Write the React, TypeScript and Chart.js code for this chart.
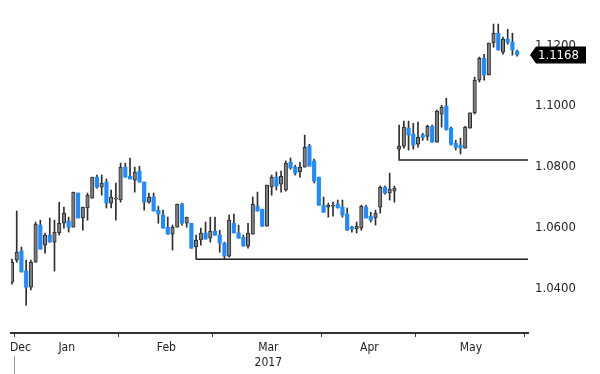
import React, { useEffect, useRef } from "react";
import { Chart, registerables } from "chart.js";

Chart.register(...registerables);

// EUR/USD daily candles, late Dec 2016 – end of May 2017
const opens = [
  1.0423, 1.0495, 1.0525, 1.0459, 1.0406, 1.0488, 1.0610, 1.0544, 1.0577, 1.0554,
  1.0584, 1.0616, 1.0623, 1.0603, 1.0715, 1.0633, 1.0666, 1.0698, 1.0767, 1.0734,
  1.0751, 1.0682, 1.0695, 1.0692, 1.0800, 1.0770, 1.0757, 1.0787, 1.0751, 1.0685,
  1.0702, 1.0659, 1.0643, 1.0603, 1.0580, 1.0603, 1.0679, 1.0616, 1.0616, 1.0538,
  1.0561, 1.0584, 1.0567, 1.0590, 1.0577, 1.0551, 1.0508, 1.0616, 1.0584, 1.0570,
  1.0541, 1.0580, 1.0672, 1.0662, 1.0606, 1.0734, 1.0767, 1.0744, 1.0725, 1.0816,
  1.0800, 1.0784, 1.0800, 1.0869, 1.0820, 1.0767, 1.0675, 1.0669, 1.0672, 1.0679,
  1.0669, 1.0646, 1.0603, 1.0597, 1.0600, 1.0669, 1.0639, 1.0633, 1.0669, 1.0734,
  1.0715, 1.0721, 1.0859, 1.0869, 1.0928, 1.0908, 1.0875, 1.0905, 1.0901, 1.0934,
  1.0882, 1.0974, 1.1000, 1.0928, 1.0878, 1.0872, 1.0862, 1.0928, 1.0978, 1.1085,
  1.1157, 1.1102, 1.1207, 1.1239, 1.1177, 1.1220, 1.1210, 1.1180,
];
const highs = [
  1.0498, 1.0656, 1.0538, 1.0495, 1.0495, 1.0620, 1.0626, 1.0584, 1.0633, 1.0626,
  1.0685, 1.0669, 1.0636, 1.0718, 1.0715, 1.0669, 1.0715, 1.0767, 1.0774, 1.0774,
  1.0761, 1.0725, 1.0748, 1.0813, 1.0813, 1.0830, 1.0800, 1.0803, 1.0751, 1.0715,
  1.0715, 1.0672, 1.0659, 1.0636, 1.0610, 1.0679, 1.0682, 1.0636, 1.0616, 1.0577,
  1.0600, 1.0620, 1.0636, 1.0636, 1.0593, 1.0554, 1.0643, 1.0646, 1.0610, 1.0577,
  1.0616, 1.0702, 1.0718, 1.0662, 1.0741, 1.0774, 1.0784, 1.0787, 1.0820, 1.0830,
  1.0806, 1.0816, 1.0905, 1.0875, 1.0826, 1.0767, 1.0702, 1.0682, 1.0685, 1.0692,
  1.0692, 1.0666, 1.0606, 1.0620, 1.0675, 1.0675, 1.0652, 1.0659, 1.0738, 1.0738,
  1.0780, 1.0738, 1.0938, 1.0951, 1.0951, 1.0944, 1.0948, 1.0911, 1.0938, 1.0938,
  1.0987, 1.1003, 1.1026, 1.0931, 1.0888, 1.0895, 1.0934, 1.0978, 1.1095, 1.1161,
  1.1170, 1.1207, 1.1269, 1.1269, 1.1226, 1.1252, 1.1239, 1.1184,
];
const lows = [
  1.0416, 1.0488, 1.0456, 1.0347, 1.0397, 1.0488, 1.0531, 1.0518, 1.0554, 1.0459,
  1.0577, 1.0600, 1.0587, 1.0603, 1.0633, 1.0593, 1.0626, 1.0698, 1.0731, 1.0708,
  1.0666, 1.0666, 1.0626, 1.0685, 1.0767, 1.0761, 1.0718, 1.0751, 1.0659, 1.0682,
  1.0656, 1.0616, 1.0600, 1.0580, 1.0528, 1.0603, 1.0610, 1.0603, 1.0534, 1.0498,
  1.0544, 1.0564, 1.0554, 1.0577, 1.0521, 1.0498, 1.0505, 1.0584, 1.0567, 1.0541,
  1.0534, 1.0580, 1.0656, 1.0606, 1.0606, 1.0708, 1.0725, 1.0718, 1.0721, 1.0793,
  1.0774, 1.0767, 1.0800, 1.0803, 1.0748, 1.0675, 1.0652, 1.0636, 1.0639, 1.0666,
  1.0636, 1.0593, 1.0587, 1.0584, 1.0593, 1.0633, 1.0620, 1.0610, 1.0649, 1.0711,
  1.0692, 1.0685, 1.0856, 1.0862, 1.0856, 1.0859, 1.0865, 1.0888, 1.0888, 1.0882,
  1.0882, 1.0931, 1.0921, 1.0872, 1.0856, 1.0843, 1.0862, 1.0928, 1.0974, 1.1079,
  1.1085, 1.1102, 1.1193, 1.1184, 1.1170, 1.1203, 1.1167, 1.1164,
];
const closes = [
  1.0488, 1.0521, 1.0456, 1.0406, 1.0488, 1.0613, 1.0531, 1.0577, 1.0554, 1.0587,
  1.0616, 1.0649, 1.0603, 1.0718, 1.0633, 1.0669, 1.0708, 1.0767, 1.0734, 1.0748,
  1.0682, 1.0702, 1.0698, 1.0800, 1.0767, 1.0761, 1.0784, 1.0751, 1.0685, 1.0702,
  1.0656, 1.0646, 1.0600, 1.0580, 1.0603, 1.0679, 1.0616, 1.0636, 1.0534, 1.0561,
  1.0584, 1.0564, 1.0590, 1.0577, 1.0551, 1.0508, 1.0626, 1.0584, 1.0567, 1.0541,
  1.0584, 1.0679, 1.0656, 1.0606, 1.0741, 1.0767, 1.0738, 1.0770, 1.0813, 1.0797,
  1.0780, 1.0800, 1.0865, 1.0803, 1.0754, 1.0675, 1.0652, 1.0675, 1.0675, 1.0666,
  1.0643, 1.0593, 1.0597, 1.0606, 1.0672, 1.0633, 1.0626, 1.0649, 1.0734, 1.0715,
  1.0728, 1.0731, 1.0869, 1.0931, 1.0905, 1.0872, 1.0898, 1.0898, 1.0934, 1.0882,
  1.0984, 1.0997, 1.0924, 1.0875, 1.0865, 1.0862, 1.0931, 1.0978, 1.1085, 1.1157,
  1.1102, 1.1207, 1.1239, 1.1184, 1.1220, 1.1210, 1.1184, 1.1168,
];

// Month boundaries (in candle-index units) and month label positions
const monthBoundaries = [0.5, 22.5, 42.5, 65.5, 85.5, 108.5];
const monthLabelPositions = [1.8, 11.6, 32.7, 54.3, 75.7, 97.2];
const monthLabels: string[][] = [["Dec"], ["Jan"], ["Feb"], ["Mar", "2017"], ["Apr"], ["May"]];

// Right-hand price axis ticks
const yTickValues = [1.04, 1.06, 1.08, 1.1, 1.12];

// Horizontal support lines: starting candle index and level
const supportStarts = [39, 82];
const supportLevels = [1.0498, 1.0823];

const X_MIN = -0.21;
const X_MAX = 109.3;
const Y_MIN = 1.0256;
const Y_MAX = 1.1348;

const NARROW = '"Liberation Sans Narrow", "DejaVu Sans Condensed", "Arial Narrow", sans-serif';
const UP_FILL = "#7f7f7f";
const UP_EDGE = "#2a2a2a";
const DOWN_FILL = "#1e8cff";
const WICK = "#2e2e2e";

const lastValuePlugin = {
  id: "lastValueBox",
  afterDraw(chart: any) {
    const { ctx, chartArea, scales } = chart;
    const v = closes[closes.length - 1];
    const y = scales.y.getPixelForValue(v);
    const x0 = chartArea.right + 2;
    ctx.save();
    ctx.fillStyle = "#000";
    ctx.beginPath();
    ctx.moveTo(x0, y);
    ctx.lineTo(x0 + 6, y - 8.5);
    ctx.lineTo(x0 + 56, y - 8.5);
    ctx.lineTo(x0 + 56, y + 8.5);
    ctx.lineTo(x0 + 6, y + 8.5);
    ctx.closePath();
    ctx.fill();
    ctx.fillStyle = "#fff";
    ctx.font = `13px ${NARROW}`;
    ctx.textBaseline = "middle";
    ctx.textAlign = "left";
    ctx.fillText(v.toFixed(4), x0 + 8, y + 0.5);
    // year separator under the first month boundary
    const xs = scales.x.getPixelForValue(monthBoundaries[0]);
    const lab = scales.xLab;
    ctx.strokeStyle = "#999";
    ctx.lineWidth = 1;
    ctx.beginPath();
    ctx.moveTo(Math.round(xs) + 0.5, lab.top + 19);
    ctx.lineTo(Math.round(xs) + 0.5, lab.bottom);
    ctx.stroke();
    ctx.restore();
  },
};

export default function App() {
  const canvasRef = useRef<HTMLCanvasElement | null>(null);

  useEffect(() => {
    const canvas = canvasRef.current;
    if (!canvas) return;
    const idx = opens.map((_, i) => i);
    const up = idx.map((i) => closes[i] >= opens[i]);

    const supportData = supportLevels.map((lvl, k) => {
      const s = supportStarts[k];
      const pts: { x: number; y: number }[] = [];
      if (Math.abs(lows[s] - lvl) > 0.0002) pts.push({ x: s, y: lows[s] });
      pts.push({ x: s, y: lvl });
      pts.push({ x: X_MAX, y: lvl });
      return pts;
    });

    const chart = new Chart(canvas, {
      type: "bar",
      data: {
        datasets: [
          {
            type: "bar",
            label: "body",
            order: 0,
            grouped: false,
            data: idx.map((i) => ({ x: i, y: [opens[i], closes[i]] })) as any,
            backgroundColor: up.map((u) => (u ? UP_FILL : DOWN_FILL)),
            borderColor: up.map((u) => (u ? UP_EDGE : DOWN_FILL)),
            borderWidth: up.map((u) => (u ? 1 : 0)),
            borderSkipped: false,
            barThickness: 3.5,
            maxBarThickness: 3.5,
            minBarLength: 1,
          } as any,
          {
            type: "bar",
            label: "wick",
            order: 1,
            grouped: false,
            data: idx.map((i) => ({ x: i, y: [lows[i], highs[i]] })) as any,
            backgroundColor: WICK,
            borderWidth: 0,
            barThickness: 1,
            maxBarThickness: 1,
          } as any,
          ...supportData.map(
            (pts, k) =>
              ({
                type: "line",
                label: `support ${k + 1}`,
                order: 2,
                data: pts,
                borderColor: "#1e1e1e",
                borderWidth: 1.5,
                pointRadius: 0,
                tension: 0,
              } as any)
          ),
        ],
      },
      options: {
        animation: false,
        responsive: true,
        maintainAspectRatio: false,
        devicePixelRatio: 1,
        layout: { padding: { left: 11, top: 0, right: 0, bottom: 0 } },
        plugins: { legend: { display: false }, tooltip: { enabled: false } },
        scales: {
          x: {
            type: "linear",
            position: "bottom",
            min: X_MIN,
            max: X_MAX,
            offset: false,
            weight: 0,
            afterBuildTicks: (s: any) => {
              s.ticks = monthBoundaries.map((v) => ({ value: v }));
            },
            ticks: { display: false },
            grid: {
              display: true,
              drawOnChartArea: false,
              drawTicks: true,
              tickLength: 4,
              color: "#333",
              lineWidth: 1,
              offset: false,
            },
            border: { display: true, color: "#333", width: 2 },
            afterFit: (s: any) => {
              s.height = 4;
              s.paddingLeft = 0;
              s.paddingRight = 0;
            },
          } as any,
          xLab: {
            type: "linear",
            position: "bottom",
            min: X_MIN,
            max: X_MAX,
            offset: false,
            weight: 1,
            afterBuildTicks: (s: any) => {
              s.ticks = monthLabelPositions.map((v) => ({ value: v }));
            },
            ticks: {
              autoSkip: false,
              maxRotation: 0,
              padding: 4,
              color: "#222",
              font: { family: NARROW, size: 12 },
              callback: (_v: any, i: number) => monthLabels[i],
            },
            grid: { display: false, drawTicks: false },
            border: { display: false },
            afterFit: (s: any) => {
              s.height = 37;
              s.paddingLeft = 0;
              s.paddingRight = 0;
            },
          } as any,
          y: {
            type: "linear",
            position: "right",
            min: Y_MIN,
            max: Y_MAX,
            beginAtZero: false,
            afterBuildTicks: (s: any) => {
              s.ticks = yTickValues.map((v) => ({ value: v }));
            },
            ticks: {
              padding: 7,
              color: "#222",
              font: { family: NARROW, size: 13 },
              callback: (v: any) => Number(v).toFixed(4),
            },
            grid: { display: false, drawTicks: false },
            border: { display: false },
            afterFit: (s: any) => {
              s.width = 72;
              s.paddingTop = 0;
              s.paddingBottom = 0;
            },
          } as any,
        },
      },
      plugins: [lastValuePlugin],
    });

    return () => chart.destroy();
  }, []);

  return (
    <div style={{ position: "absolute", left: 0, top: 0, width: 600, height: 374, background: "#fff" }}>
      <canvas ref={canvasRef} />
    </div>
  );
}
